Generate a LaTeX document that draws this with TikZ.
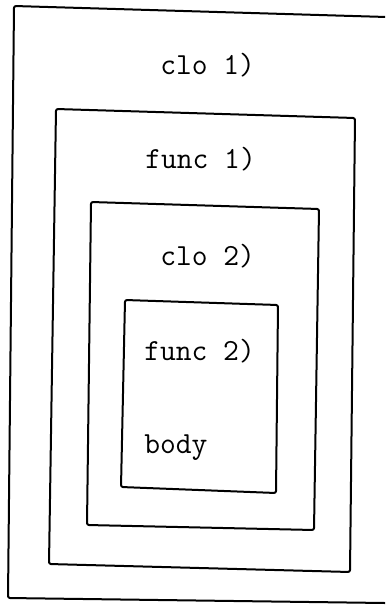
\documentclass[tikz,border=0pt]{standalone}
\usepackage{fontspec}
\usetikzlibrary{positioning}

\begin{document}
\begin{tikzpicture}[
  x=0.75pt, y=-0.75pt,
  boxline/.style={line width=1.5pt, line join=round, rounded corners=1.5pt},
  codetext/.style={font=\ttfamily\fontsize{23}{27}\selectfont, anchor=base west, inner sep=0pt}
]
\useasboundingbox (0,0) rectangle (385,606);
\clip (0,0) rectangle (385,606);

% Nested scopes, outermost first (outer one runs off the right edge)
\draw[boxline] (400,17.4) -- (14,6) -- (8,598) -- (400,603.2);
\draw[boxline] (56,109) -- (355,118) -- (350,572) -- (49,564) -- cycle;
\draw[boxline] (91,202) -- (319,209) -- (314,530) -- (87,525) -- cycle;
\draw[boxline] (125,300) -- (278,305) -- (276,493) -- (121,487) -- cycle;

% Labels
\node[codetext] (clo1) at (160,75) {clo 1)};
\node[codetext] (func1) at (145,168) {func 1)};
\node[codetext] (clo2) at (160,265) {clo 2)};
\node[codetext] (func2) at (144,360) {func 2)};
\node[codetext] (body) at (144,453) {body};
\end{tikzpicture}
\end{document}
